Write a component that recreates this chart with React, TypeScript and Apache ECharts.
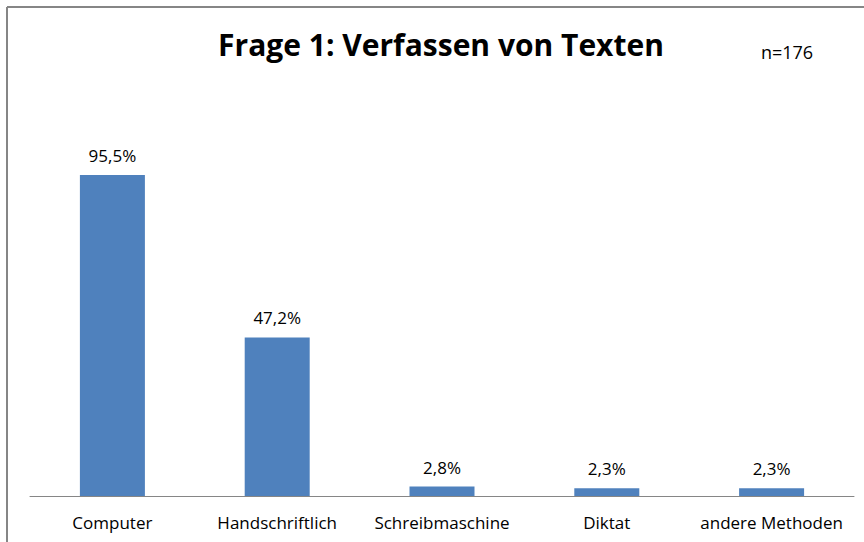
import React, { useEffect, useRef } from "react";
import * as echarts from "echarts";

const categories = ["Computer", "Handschriftlich", "Schreibmaschine", "Diktat", "andere Methoden"];
const values = [95.5, 47.2, 2.8, 2.3, 2.3];
const titleText = "Frage 1: Verfassen von Texten";
const sampleText = "n=176";

export default function App() {
  const ref = useRef<HTMLDivElement>(null);
  useEffect(() => {
    if (!ref.current) return;
    const chart = echarts.init(ref.current, null, { renderer: "svg" });
    const font = "'Open Sans', 'Noto Sans', sans-serif";
    chart.setOption({
      animation: false,
      backgroundColor: "#ffffff",
      title: {
        text: titleText,
        left: 436,
        textAlign: "center",
        top: 24,
        textStyle: { fontFamily: font, fontSize: 30, fontWeight: "bold", color: "#000000" },
      },
      graphic: [
        { type: "line", shape: { x1: 7, y1: 7, x2: 864, y2: 7 }, style: { stroke: "#868686", lineWidth: 2 } },
        { type: "line", shape: { x1: 7, y1: 7, x2: 7, y2: 542 }, style: { stroke: "#868686", lineWidth: 2 } },
        {
          type: "text",
          x: 787,
          y: 52,
          style: { text: sampleText, fontFamily: font, fontSize: 18, fill: "#000000", textAlign: "center", textVerticalAlign: "middle" },
        },
      ],
      grid: { left: 30, right: 10, top: 160, bottom: 46, containLabel: false },
      xAxis: {
        type: "category",
        data: categories,
        axisLine: { lineStyle: { color: "#868686", width: 1 } },
        axisTick: { show: false },
        axisLabel: { fontFamily: font, fontSize: 17, color: "#000000", margin: 18, interval: 0 },
      },
      yAxis: {
        type: "value",
        min: 0,
        max: 100,
        show: false,
        splitLine: { show: false },
      },
      series: [
        {
          type: "bar",
          data: values,
          barWidth: 65,
          itemStyle: { color: "#4F81BD" },
          label: {
            show: true,
            position: "top",
            distance: 11,
            fontFamily: font,
            fontSize: 17,
            color: "#000000",
            formatter: (p: any) => p.value.toFixed(1).replace(".", ",") + "%",
          },
        },
      ],
    });
    return () => chart.dispose();
  }, []);
  return <div ref={ref} style={{ position: "fixed", left: 0, top: 0, width: 864, height: 542 }} />;
}
